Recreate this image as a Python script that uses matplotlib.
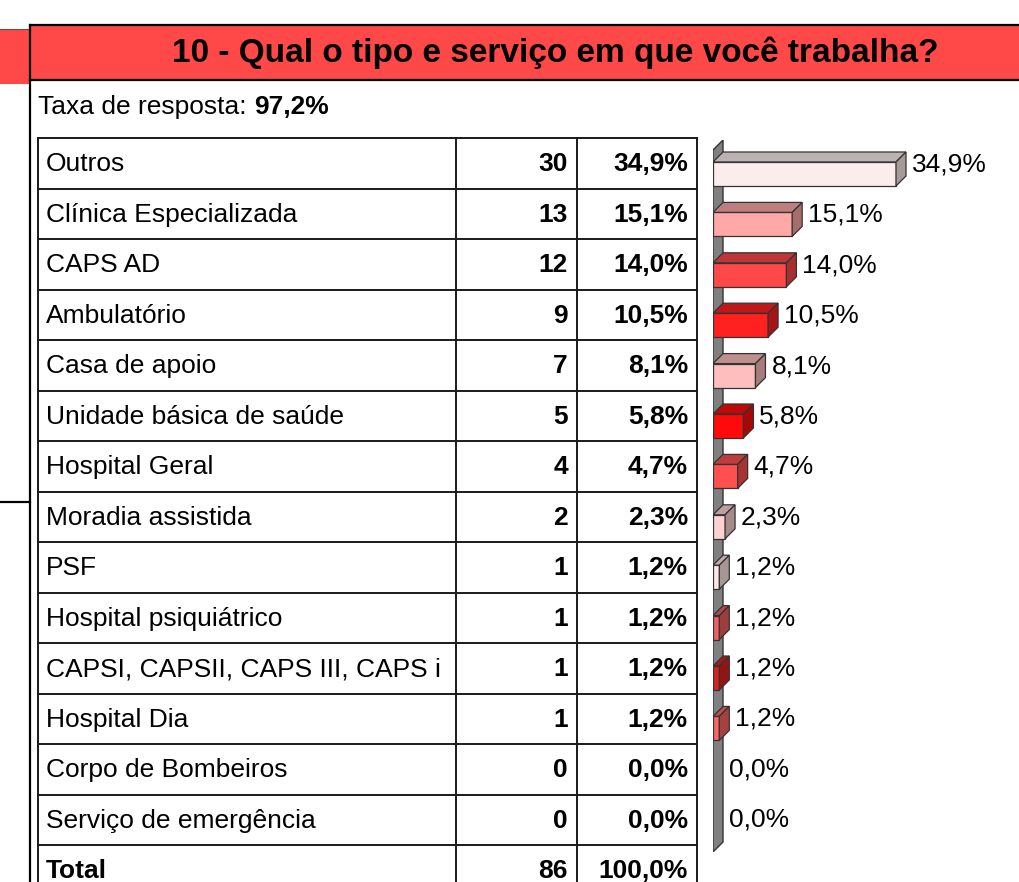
import matplotlib
matplotlib.use("Agg")
import matplotlib.pyplot as plt
from matplotlib.patches import Rectangle, Polygon
import numpy as np

plt.rcParams['font.family'] = ['Liberation Sans', 'DejaVu Sans']

# data
title = "10 - Qual o tipo e serviço em que você trabalha?"
response_rate = "97,2%"
categories = ["Outros", "Clínica Especializada", "CAPS AD", "Ambulatório",
              "Casa de apoio", "Unidade básica de saúde", "Hospital Geral",
              "Moradia assistida", "PSF", "Hospital psiquiátrico",
              "CAPSI, CAPSII, CAPS III, CAPS i", "Hospital Dia",
              "Corpo de Bombeiros", "Serviço de emergência"]
counts = [30, 13, 12, 9, 7, 5, 4, 2, 1, 1, 1, 1, 0, 0]
percents = [34.9, 15.1, 14.0, 10.5, 8.1, 5.8, 4.7, 2.3, 1.2, 1.2, 1.2, 1.2, 0.0, 0.0]
total_count = 86
total_pct = "100,0%"
bar_colors = ["#FCEDED", "#FFA8A8", "#FF4848", "#FF2020", "#FFBEBE", "#FF0A0A",
              "#FF5050", "#FFD2D2", "#FFE6E6", "#F06060", "#E02020", "#FF6464",
              "#FFFFFF", "#FFFFFF"]

W, H = 1020, 882
fig = plt.figure(figsize=(W / 100, H / 100), dpi=100)
fig.patch.set_facecolor("white")

# background axes in pixel units for the report frame and table
bg = fig.add_axes([0, 0, 1, 1])
bg.set_xlim(0, W)
bg.set_ylim(H, 0)
bg.axis("off")

red = "#FF4848"
bg.add_patch(Rectangle((0, 29), 30, 55, facecolor=red, edgecolor="none"))
bg.plot([0, 30], [29, 29], color="#555555", lw=0.8)
bg.add_patch(Rectangle((30, 25), W - 30, 55, facecolor=red, edgecolor="none"))
bg.plot([30, W], [25, 25], color="black", lw=1.6)
bg.plot([30, W], [80, 80], color="black", lw=1.6)
bg.plot([30.5, 30.5], [25, H], color="black", lw=1.6)
bg.plot([0, 30], [502, 502], color="black", lw=1.6)
bg.text(555, 53, title, ha="center", va="center", fontsize=24, fontweight="bold")

fs = 19
t1 = bg.text(38, 107, "Taxa de resposta: ", ha="left", va="center", fontsize=fs)
bg.annotate(response_rate, xy=(1, 0.5), xycoords=t1, ha="left", va="center",
            fontsize=fs, fontweight="bold")

# table
top, rh = 138, 50.5
cols = [38, 456, 577, 697]
n = len(categories) + 1
for k in range(n + 1):
    y = top + k * rh
    bg.plot([cols[0], cols[-1]], [y, y], color="#1a1a1a", lw=1.4)
for x in cols:
    bg.plot([x, x], [top, H], color="#1a1a1a", lw=1.4)

rows = list(zip(categories, [str(c) for c in counts],
                [f"{p:.1f}".replace(".", ",") + "%" for p in percents]))
rows.append(("Total", str(total_count), total_pct))
for i, (lab, c, p) in enumerate(rows):
    yc = top + i * rh + rh / 2 + 1
    bg.text(46, yc, lab, ha="left", va="center", fontsize=fs,
            fontweight="bold" if lab == "Total" else "normal")
    bg.text(568, yc, c, ha="right", va="center", fontsize=fs, fontweight="bold")
    bg.text(688, yc, p, ha="right", va="center", fontsize=fs, fontweight="bold")

# 3D-looking horizontal bars
x0, x1 = 713, 1013
ytop_px, ybot_px = 140, 852
first_c, step = 174, 50.4
bar_px, depth_px = 24, 10
xmax = (x1 - x0) / 183 * percents[0]
ax = fig.add_axes([x0 / W, 1 - ybot_px / H, (x1 - x0) / W, (ybot_px - ytop_px) / H])
ax.set_xlim(0, xmax)
ax.set_ylim((ybot_px - first_c) / step, (ytop_px - first_c) / step)
ax.axis("off")

dx = depth_px * xmax / (x1 - x0)
dy = depth_px / step
h = bar_px / step


def shade(c, f):
    r, g, b = matplotlib.colors.to_rgb(c)
    return (r * f, g * f, b * f)


# axis wall
ybot = (ybot_px - first_c) / step
ax.add_patch(Polygon([(0, -h), (dx, -h - dy), (dx, ybot - dy), (0, ybot)],
                     closed=True, facecolor="#808080", edgecolor="#333333", lw=1))

for i, (v, col) in enumerate(zip(percents, bar_colors)):
    if v > 0:
        ax.barh(i, v, height=h, left=0, color=col, edgecolor="#333333", lw=0.9, zorder=3)
        yt = i - h / 2
        ax.add_patch(Polygon([(0, yt), (v, yt), (v + dx, yt - dy), (dx, yt - dy)],
                             closed=True, facecolor=shade(col, 0.75),
                             edgecolor="#333333", lw=0.9, zorder=3))
        ax.add_patch(Polygon([(v, yt), (v + dx, yt - dy), (v + dx, yt + h - dy), (v, yt + h)],
                             closed=True, facecolor=shade(col, 0.65),
                             edgecolor="#333333", lw=0.9, zorder=3))
        lx = v + dx + 6 * xmax / (x1 - x0)
    else:
        lx = dx + 6 * xmax / (x1 - x0)
    ax.text(lx, i - 0.19, f"{v:.1f}".replace(".", ",") + "%", ha="left",
            va="center", fontsize=fs, zorder=4)

fig.savefig("out.png", dpi=100, facecolor="white")
